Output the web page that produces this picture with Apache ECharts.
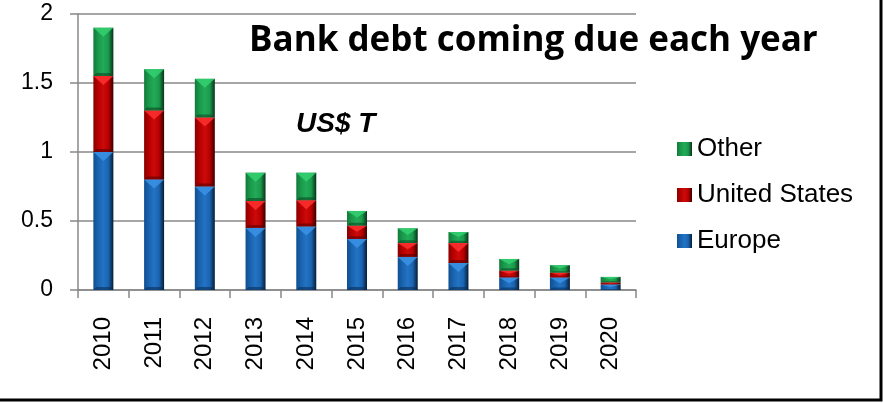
<!DOCTYPE html>
<html>
<head>
<meta charset="utf-8">
<script src="https://cdn.jsdelivr.net/npm/echarts@6/dist/echarts.min.js"></script>
<style>
  html, body { margin: 0; padding: 0; background: #fff; }
  #chart { width: 883px; height: 403px; }
</style>
</head>
<body>
<div id="chart"></div>
<script>
var years = ['2010', '2011', '2012', '2013', '2014', '2015', '2016', '2017', '2018', '2019', '2020'];
var europe = [1.0, 0.8, 0.75, 0.45, 0.46, 0.37, 0.24, 0.195, 0.09, 0.09, 0.04];
var unitedStates = [0.55, 0.5, 0.5, 0.195, 0.19, 0.096, 0.1, 0.145, 0.05, 0.035, 0.015];
var other = [0.35, 0.3, 0.28, 0.205, 0.2, 0.107, 0.107, 0.08, 0.085, 0.055, 0.04];
var yTicks = [0, 0.5, 1, 1.5, 2];

// light / dark shades for the bevel on top of each stacked piece
var shades = [
  { light: '#3b93e6', dark: '#0a2f58' },
  { light: '#ff3030', dark: '#5a0000' },
  { light: '#34d070', dark: '#0b4a24' }
];

function bevel(left, mid, light, right) {
  return new echarts.graphic.LinearGradient(0, 0, 1, 0, [
    { offset: 0, color: left },
    { offset: 0.25, color: mid },
    { offset: 0.5, color: light },
    { offset: 0.75, color: mid },
    { offset: 1, color: right }
  ]);
}

// segments [year index, bottom, top, series index] from the stacked arrays
var pieces = [];
years.forEach(function (y, i) {
  var b = 0;
  [europe, unitedStates, other].forEach(function (arr, s) {
    pieces.push([i, b, b + arr[i], s]);
    b += arr[i];
  });
});

var myChart = echarts.init(document.getElementById('chart'));
var option = {
  backgroundColor: '#fff',
  animation: false,
  textStyle: { fontFamily: 'Liberation Sans, Arial, sans-serif' },
  title: [
    {
      text: 'Bank debt coming due each year',
      left: 244, top: 19,
      textStyle: { fontFamily: 'Open Sans', fontWeight: 'bold', fontSize: 35, color: '#000' }
    },
    {
      text: 'US$ T',
      left: 291, top: 105,
      textStyle: { fontFamily: 'Liberation Sans', fontWeight: 'bold', fontStyle: 'italic', fontSize: 28, color: '#000' }
    }
  ],
  legend: {
    orient: 'vertical',
    left: 672, top: 131,
    itemWidth: 15, itemHeight: 14,
    itemGap: 20,
    icon: 'rect',
    data: ['Other', 'United States', 'Europe'],
    textStyle: { fontSize: 26, color: '#000', fontFamily: 'Liberation Sans' }
  },
  grid: { left: 78, right: 247, top: 14, bottom: 113 },
  xAxis: {
    type: 'category',
    data: years,
    axisLine: { lineStyle: { color: '#888', width: 1.5 } },
    axisTick: { show: true, length: 8, lineStyle: { color: '#888', width: 1.5 } },
    axisLabel: { rotate: 90, margin: 27, fontSize: 24, color: '#000', fontFamily: 'Liberation Sans' }
  },
  yAxis: {
    type: 'value',
    min: yTicks[0], max: yTicks[yTicks.length - 1], interval: 0.5,
    axisLine: { show: true, lineStyle: { color: '#888', width: 1.5 } },
    axisTick: { show: true, length: 8, lineStyle: { color: '#888', width: 1.5 } },
    splitLine: { lineStyle: { color: '#888', width: 1.5 } },
    axisLabel: { margin: 25, fontSize: 23, color: '#000', fontFamily: 'Liberation Sans' }
  },
  series: [
    {
      name: 'Europe', type: 'bar', stack: 'debt', barWidth: 20, data: europe,
      itemStyle: { color: bevel('#0f4f90', '#1a64b0', '#2373c4', '#061c36') }
    },
    {
      name: 'United States', type: 'bar', stack: 'debt', barWidth: 20, data: unitedStates,
      itemStyle: { color: bevel('#8a0000', '#b80000', '#cc0a0a', '#3a0000') }
    },
    {
      name: 'Other', type: 'bar', stack: 'debt', barWidth: 20, data: other,
      itemStyle: { color: bevel('#127a3a', '#1a9a4c', '#22aa58', '#073218') }
    },
    {
      type: 'custom',
      silent: true,
      z: 3,
      data: pieces,
      renderItem: function (params, api) {
        var top = api.coord([api.value(0), api.value(2)]);
        var bot = api.coord([api.value(0), api.value(1)]);
        var s = shades[api.value(3)];
        var h = bot[1] - top[1];
        var cx = top[0], hw = 10;
        var th = Math.min(9, h * 0.45);
        var bh = Math.min(3, h * 0.2);
        return {
          type: 'group',
          children: [
            {
              type: 'polygon',
              shape: { points: [[cx - hw, top[1]], [cx + hw, top[1]], [cx, top[1] + th]] },
              style: { fill: s.light, opacity: 0.85 }
            },
            {
              type: 'polygon',
              shape: { points: [[cx - hw, bot[1]], [cx + hw, bot[1]], [cx + hw - 3, bot[1] - bh], [cx - hw + 3, bot[1] - bh]] },
              style: { fill: s.dark, opacity: 0.6 }
            }
          ]
        };
      }
    }
  ],
  graphic: [
    {
      type: 'rect', silent: true,
      shape: { x: -5, y: -5, width: 886, height: 405 },
      style: { fill: null, stroke: '#000', lineWidth: 3 }
    }
  ]
};
myChart.setOption(option);
window.addEventListener('resize', function () { myChart.resize(); });
</script>
</body>
</html>
